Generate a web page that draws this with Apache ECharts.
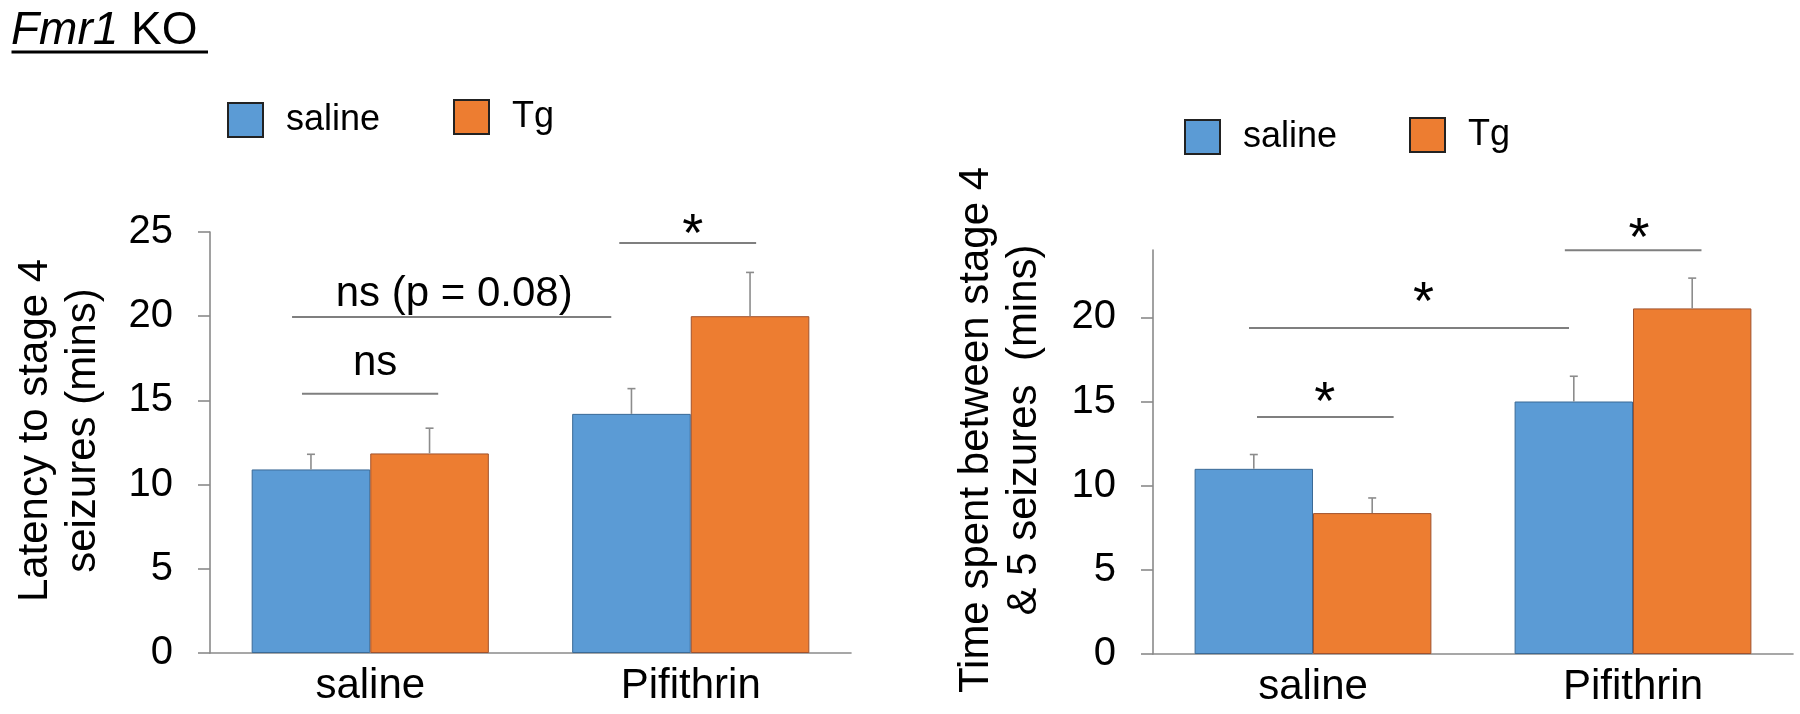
<!DOCTYPE html>
<html><head><meta charset="utf-8">
<script src="https://cdn.jsdelivr.net/npm/echarts@6/dist/echarts.min.js"></script>
<style>html,body{margin:0;padding:0;background:#fff}#c{width:1800px;height:714px}</style>
</head><body><div id="c"></div>
<script>
// ---------- data ----------
const categories = ['saline', 'Pifithrin'];
const groupNames = ['saline', 'Tg'];

const latencySaline = [10.9, 14.2];
const latencySalineErr = [0.9, 1.5];
const latencyTg = [11.85, 20.0];
const latencyTgErr = [1.5, 2.6];

const timeSaline = [11.0, 15.0];
const timeSalineErr = [0.85, 1.5];
const timeTg = [8.37, 20.53];
const timeTgErr = [0.9, 1.8];

const latencyTicks = [0, 5, 10, 15, 20, 25];
const timeTicks = [0, 5, 10, 15, 20];

// significance brackets: [start (category units), end (category units), value]
const latencyBrackets = [[-0.213, 0.212, 15.4], [-0.244, 0.752, 19.95], [0.777, 1.204, 24.35]];
const latencyLabels = ['ns', 'ns (p = 0.08)', '*'];
const latencyLabelPos = [[0.015, 16.97], [0.262, 21.1], [1.006, 25.5]];

const timeBrackets = [[-0.175, 0.252, 14.08], [-0.2, 0.8, 19.37], [0.787, 1.214, 23.98]];
const timeLabels = ['*', '*', '*'];
const timeLabelPos = [[0.037, 15.55], [0.345, 21.5], [1.019, 25.3]];

// ---------- style ----------
const FONT = "'Liberation Sans', Arial, Helvetica, sans-serif";
const BLUE = '#5B9BD5', ORANGE = '#ED7D31';
const AXIS_GRAY = '#8a8a8a';
const BAR_CAT_GAP = 0.26;
const BAR_OFFSET = (1 - BAR_CAT_GAP) / 4;

const chart = echarts.init(document.getElementById('c'), null, {renderer: 'canvas'});

function errSeries(vals, errs, side, axis) {
  return {
    type: 'custom', name: 'err' + axis + side, xAxisIndex: axis, yAxisIndex: axis, z: 5,
    silent: true,
    encode: {x: 0, y: 1},
    data: vals.map((v, i) => [i, v, errs[i]]),
    renderItem: function (params, api) {
      const base = api.coord([api.value(0), api.value(1)]);
      const top = api.coord([api.value(0), api.value(1) + api.value(2)]);
      const band = api.size([1, 0])[0];
      const x = base[0] + side * band * BAR_OFFSET;
      const st = {stroke: '#8c8c8c', lineWidth: 1.6};
      return {type: 'group', children: [
        {type: 'line', shape: {x1: x, y1: base[1], x2: x, y2: top[1]}, style: st},
        {type: 'line', shape: {x1: x - 4, y1: top[1], x2: x + 4, y2: top[1]}, style: st}
      ]};
    }
  };
}

function annoSeries(brackets, labels, pos, axis) {
  return {
    type: 'custom', name: 'anno' + axis, xAxisIndex: axis, yAxisIndex: axis, z: 6,
    silent: true, clip: false,
    encode: {x: 0, y: 1},
    data: brackets.map((b, i) => [0, b[2], b[0], b[1], pos[i][0], pos[i][1], i]),
    renderItem: function (params, api) {
      const c0 = api.coord([0, api.value(1)]);
      const band = api.size([1, 0])[0];
      const lp = api.coord([0, api.value(5)]);
      const txt = labels[api.value(6)];
      const star = txt === '*';
      const fs = star ? 54 : 42;
      const yMid = star ? lp[1] + 0.2285 * fs : lp[1] - 0.0865 * fs;
      return {type: 'group', children: [
        {type: 'line', shape: {x1: c0[0] + api.value(2) * band, y1: c0[1], x2: c0[0] + api.value(3) * band, y2: c0[1]},
          style: {stroke: '#7f7f7f', lineWidth: 2}},
        {type: 'text', style: {text: txt, x: c0[0] + api.value(4) * band, y: yMid,
          align: 'center', verticalAlign: 'middle', fill: '#000', fontSize: fs, fontFamily: FONT}}
      ]};
    }
  };
}

function legendItem(name, left, top) {
  return {
    data: [name], left: left, top: top, padding: 0, icon: 'rect',
    itemWidth: 35, itemHeight: 34, selectedMode: false,
    itemStyle: {borderColor: '#222', borderWidth: 2},
    textStyle: {fontSize: 36, color: '#000', fontFamily: FONT, padding: [0, 0, 0, 18]}
  };
}

function xAxisCfg(idx) {
  return {
    gridIndex: idx, type: 'category', data: categories,
    axisLine: {lineStyle: {color: AXIS_GRAY, width: 1.6}},
    axisTick: {show: false},
    axisLabel: {fontSize: 42, color: '#000', fontFamily: FONT, margin: 12}
  };
}

function yAxisCfg(idx, max, ticks, name, gap, shift) {
  return {
    gridIndex: idx, type: 'value', min: 0, max: max, interval: 5,
    splitLine: {show: false},
    axisLine: {show: true, lineStyle: {color: AXIS_GRAY, width: 1.6}},
    axisTick: {show: true, length: 12, lineStyle: {color: AXIS_GRAY, width: 1.6}, customValues: ticks},
    axisLabel: {fontSize: 40, color: '#000', fontFamily: FONT, margin: 37, customValues: ticks},
    name: name, nameLocation: 'middle', nameGap: gap, nameRotate: 90,
    nameTextStyle: {fontSize: 42, lineHeight: 48, color: '#000', fontFamily: FONT, padding: [0, 0, 0, shift]}
  };
}

function barSeries(name, data, axis, color, border) {
  return {
    type: 'bar', name: name, xAxisIndex: axis, yAxisIndex: axis, data: data,
    barGap: '0%', barCategoryGap: (BAR_CAT_GAP * 100) + '%',
    itemStyle: {color: color, borderColor: border, borderWidth: 1},
    emphasis: {disabled: true}
  };
}

chart.setOption({
  animation: false,
  backgroundColor: '#fff',
  graphic: [
    {type: 'text', left: 11, top: 8,
      style: {text: '{i|Fmr1} KO', fontSize: 46, fontFamily: FONT, fill: '#000',
        rich: {i: {fontStyle: 'italic', fontSize: 46, fontFamily: FONT, fill: '#000'}}}},
    {type: 'line', shape: {x1: 11.5, y1: 52, x2: 208, y2: 52}, style: {stroke: '#000', lineWidth: 3}}
  ],
  legend: [
    legendItem(groupNames[0], 227, 102),
    legendItem(groupNames[1], 453, 99),
    legendItem(groupNames[0], 1184, 119),
    legendItem(groupNames[1], 1409, 117)
  ],
  grid: [
    {left: 210, right: 949, top: 232, bottom: 61, outerBoundsMode: 'none', containLabel: false},
    {left: 1153, right: 7, top: 250, bottom: 60, outerBoundsMode: 'none', containLabel: false}
  ],
  xAxis: [xAxisCfg(0), xAxisCfg(1)],
  yAxis: [
    yAxisCfg(0, 25, latencyTicks, 'Latency to stage 4\nseizures (mins)', 103, 24),
    yAxisCfg(1, 24, timeTicks, 'Time spent between stage 4\n& 5 seizures  (mins)', 105, 44)
  ],
  series: [
    barSeries(groupNames[0], latencySaline, 0, BLUE, '#3b6a96'),
    barSeries(groupNames[1], latencyTg, 0, ORANGE, '#a0522d'),
    barSeries(groupNames[0], timeSaline, 1, BLUE, '#3b6a96'),
    barSeries(groupNames[1], timeTg, 1, ORANGE, '#a0522d'),
    errSeries(latencySaline, latencySalineErr, -1, 0),
    errSeries(latencyTg, latencyTgErr, 1, 0),
    errSeries(timeSaline, timeSalineErr, -1, 1),
    errSeries(timeTg, timeTgErr, 1, 1),
    annoSeries(latencyBrackets, latencyLabels, latencyLabelPos, 0),
    annoSeries(timeBrackets, timeLabels, timeLabelPos, 1)
  ]
});
</script></body></html>
